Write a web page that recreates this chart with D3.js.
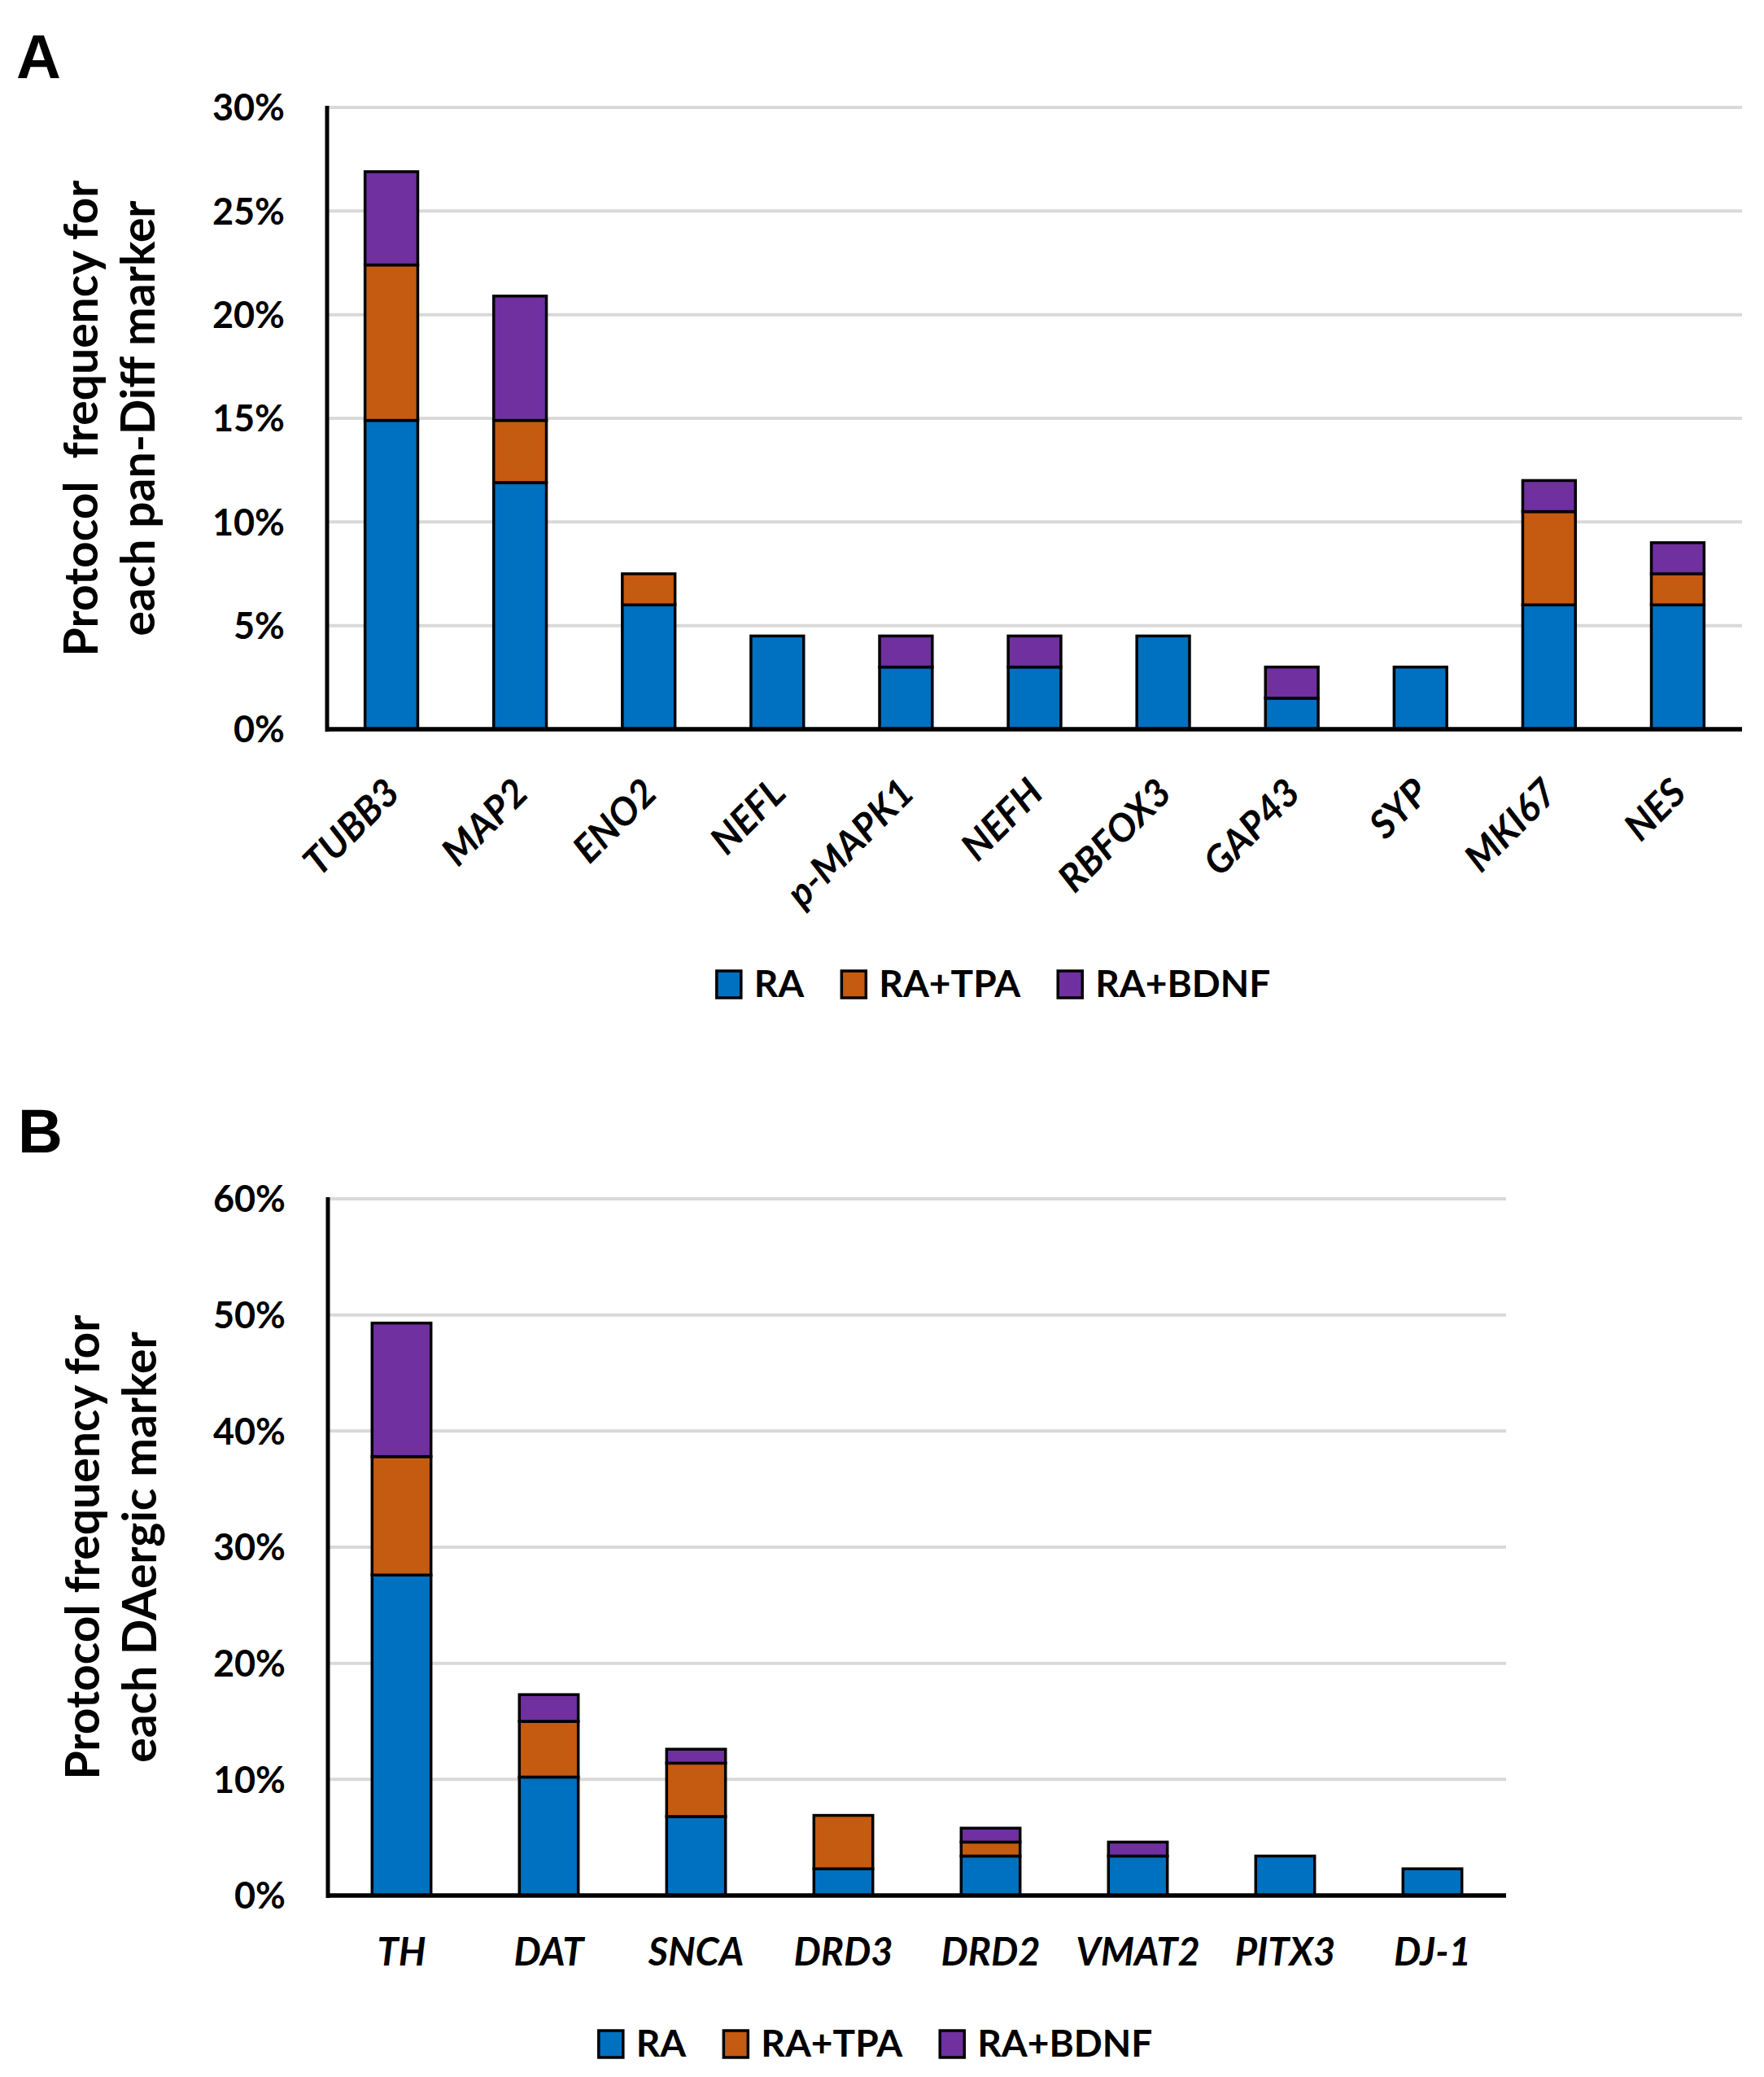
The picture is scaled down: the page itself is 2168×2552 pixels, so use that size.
<!DOCTYPE html>
<html>
<head>
<meta charset="utf-8">
<script src="https://cdn.jsdelivr.net/npm/d3@7"></script>
<style>
  html, body { margin: 0; padding: 0; background: #ffffff; }
  svg { display: block; }
  text { font-family: Lato, "Open Sans", "Liberation Sans", sans-serif; font-weight: 700; fill: #000; white-space: pre; }
</style>
</head>
<body>
<svg id="chart" width="2168" height="2552"></svg>
<script>
// ---------------- DATA ----------------
const seriesNames = ["RA", "RA+TPA", "RA+BDNF"];
const seriesColors = ["#0070C0", "#C55A11", "#7030A0"];

// Panel A: pan-differentiation markers (percent of protocols)
const markersA = ["TUBB3", "MAP2", "ENO2", "NEFL", "p-MAPK1", "NEFH", "RBFOX3", "GAP43", "SYP", "MKI67", "NES"];
const raA      = [14.9, 11.9, 6.0, 4.5, 3.0, 3.0, 4.5, 1.5, 3.0, 6.0, 6.0];
const raTpaA   = [ 7.5,  3.0, 1.5, 0.0, 0.0, 0.0, 0.0, 0.0, 0.0, 4.5, 1.5];
const raBdnfA  = [ 4.5,  6.0, 0.0, 0.0, 1.5, 1.5, 0.0, 1.5, 0.0, 1.5, 1.5];
const ticksA      = [0, 5, 10, 15, 20, 25, 30];
const tickLabelsA = ["0%", "5%", "10%", "15%", "20%", "25%", "30%"];
const titleA = ["Protocol  frequency for", "each pan-Diff marker"];

// Panel B: dopaminergic markers (percent of protocols)
const markersB = ["TH", "DAT", "SNCA", "DRD3", "DRD2", "VMAT2", "PITX3", "DJ-1"];
const raB      = [27.6, 10.2, 6.8, 2.3, 3.4, 3.4, 3.4, 2.3];
const raTpaB   = [10.2,  4.8, 4.6, 4.6, 1.2, 0.0, 0.0, 0.0];
const raBdnfB  = [11.5,  2.3, 1.2, 0.0, 1.2, 1.2, 0.0, 0.0];
const ticksB      = [0, 10, 20, 30, 40, 50, 60];
const tickLabelsB = ["0%", "10%", "20%", "30%", "40%", "50%", "60%"];
const titleB = ["Protocol frequency for", "each DAergic marker"];

// ---------------- DRAW ----------------
const svg = d3.select("#chart");

function drawPanel(o) {
  const g = svg.append("g");
  const rows = o.markers.map((m, i) => ({ marker: m, "RA": o.ra[i], "RA+TPA": o.tpa[i], "RA+BDNF": o.bdnf[i] }));

  const x = d3.scaleBand().domain(o.markers).range([o.left, o.right])
    .paddingInner(o.pad).paddingOuter(o.pad / 2);
  const y = d3.scaleLinear().domain([0, o.ticks[o.ticks.length - 1]]).range([o.bottom, o.top]);

  // panel letter
  g.append("text").attr("x", o.letterX).attr("y", o.letterY)
    .style("font-family", "'Liberation Sans', Arial, sans-serif")
    .style("font-size", o.letterSize + "px").text(o.letter);

  // gridlines
  g.selectAll("line.grid").data(o.ticks.filter(t => t > 0)).join("line")
    .attr("x1", o.left).attr("x2", o.right)
    .attr("y1", d => y(d)).attr("y2", d => y(d))
    .attr("stroke", "#D9D9D9").attr("stroke-width", 4);

  // y tick labels
  g.selectAll("text.tick").data(o.ticks).join("text")
    .attr("x", o.left - 52).attr("y", d => y(d)).attr("dy", "0.36em")
    .attr("text-anchor", "end").style("font-size", "45px")
    .text((d, i) => o.tickLabels[i]);

  // y title (two lines)
  const cy = (o.top + o.bottom) / 2;
  o.title.forEach((t, i) => {
    g.append("text")
      .attr("transform", `translate(${o.titleX + i * 70},${cy}) rotate(-90)`)
      .attr("text-anchor", "middle").style("font-size", "57px").text(t);
  });

  // stacked bars
  const stacked = d3.stack().keys(seriesNames)(rows);
  stacked.forEach((layer, si) => {
    g.selectAll(null).data(layer.filter(d => d[1] - d[0] > 0)).join("rect")
      .attr("x", d => x(d.data.marker))
      .attr("width", x.bandwidth())
      .attr("y", d => y(d[1]))
      .attr("height", d => y(d[0]) - y(d[1]))
      .attr("fill", seriesColors[si])
      .attr("stroke", "#000").attr("stroke-width", 3.5);
  });

  // axes lines
  g.append("line").attr("x1", o.left).attr("x2", o.left)
    .attr("y1", y(o.ticks[o.ticks.length - 1]) - 2).attr("y2", o.bottom + 3)
    .attr("stroke", "#000").attr("stroke-width", 5);
  g.append("line").attr("x1", o.left - 2).attr("x2", o.right)
    .attr("y1", o.bottom).attr("y2", o.bottom)
    .attr("stroke", "#000").attr("stroke-width", 5.5);

  // x labels
  const xl = g.selectAll("text.xl").data(o.markers).join("text")
    .style("font-size", "47px").style("font-style", "italic").text(d => d);
  if (o.rotate) {
    xl.attr("text-anchor", "end")
      .attr("transform", d => `translate(${x(d) + x.bandwidth() / 2 + o.xlDx},${o.xlY}) rotate(-45)`);
  } else {
    xl.attr("text-anchor", "middle")
      .attr("x", d => x(d) + x.bandwidth() / 2).attr("y", o.xlY);
  }

  // legend
  const lg = g.append("g");
  let cx = 0;
  seriesNames.forEach((s, i) => {
    const item = lg.append("g").attr("transform", `translate(${cx},0)`);
    item.append("rect").attr("x", 0).attr("y", -32).attr("width", 30).attr("height", 33)
      .attr("fill", seriesColors[i]).attr("stroke", "#000").attr("stroke-width", 3.5);
    const t = item.append("text").attr("x", 46).attr("y", 0).style("font-size", "46px").text(s);
    cx += 46 + t.node().getComputedTextLength() + 46;
  });
  const total = cx - 46;
  lg.attr("transform", `translate(${o.legendCenter - total / 2},${o.legendY})`);
}

drawPanel({
  letter: "A", letterX: 20, letterY: 96, letterSize: 76,
  markers: markersA, ra: raA, tpa: raTpaA, bdnf: raBdnfA,
  ticks: ticksA, tickLabels: tickLabelsA, title: titleA,
  left: 402, right: 2141, top: 132, bottom: 896, pad: 0.59,
  titleX: 120, rotate: true, xlDx: 13, xlY: 977,
  legendCenter: 1221, legendY: 1225
});

drawPanel({
  letter: "B", letterX: 22, letterY: 1416, letterSize: 76,
  markers: markersB, ra: raB, tpa: raTpaB, bdnf: raBdnfB,
  ticks: ticksB, tickLabels: tickLabelsB, title: titleB,
  left: 403, right: 1851, top: 1473, bottom: 2329, pad: 0.60,
  titleX: 122, rotate: false, xlDx: 0, xlY: 2415,
  legendCenter: 1076, legendY: 2527
});
</script>
</body>
</html>
